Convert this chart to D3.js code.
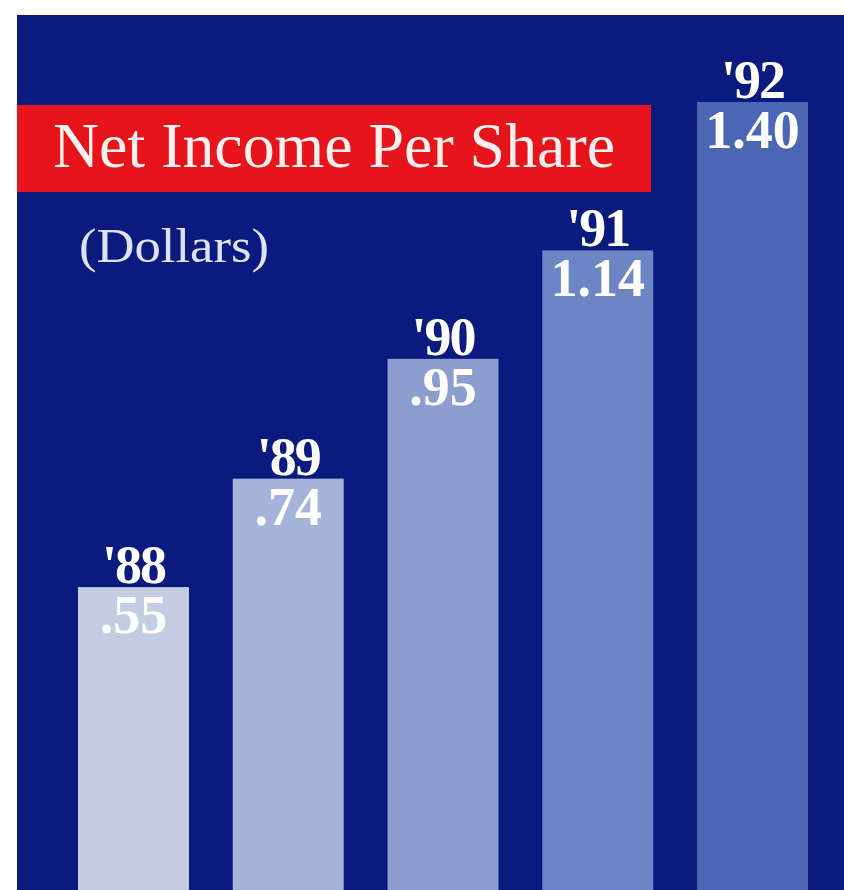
<!DOCTYPE html>
<html>
<head>
<meta charset="utf-8">
<script src="https://cdn.jsdelivr.net/npm/d3@7"></script>
<style>
  html, body { margin: 0; padding: 0; background: #ffffff; }
  svg { display: block; }
</style>
</head>
<body>
<script>
// Net income per share, fiscal 1988-1992
const years = ["'88", "'89", "'90", "'91", "'92"];
const values = [0.55, 0.74, 0.95, 1.14, 1.40];
const valueLabels = [".55", ".74", ".95", "1.14", "1.40"];
const barColors = ["#c4cce3", "#a6b3d9", "#8c9ecf", "#6d85c4", "#4b66b3"];

const W = 844, H = 890;
const svg = d3.select("body").append("svg")
  .attr("width", W).attr("height", H);

// White paper margin and navy panel
svg.append("rect").attr("width", W).attr("height", H).attr("fill", "#ffffff");
svg.append("rect").attr("x", 17).attr("y", 15).attr("width", W - 17).attr("height", H - 15)
  .attr("fill", "#0a1a7e");

const x = d3.scaleBand().domain(years).range([78, 808])
  .paddingInner(0.283).paddingOuter(0).align(0);
const y = d3.scaleLinear().domain([0, 1.40]).range([901, 102]);

// Title band
svg.append("rect").attr("x", 17).attr("y", 105).attr("width", 634).attr("height", 87)
  .attr("fill", "#e8141b");
svg.append("text")
  .attr("x", 53).attr("y", 167)
  .attr("font-family", "'Liberation Serif', serif")
  .attr("font-size", 63)
  .attr("fill", "#fdf0ef")
  .attr("textLength", 562).attr("lengthAdjust", "spacingAndGlyphs")
  .text("Net Income Per Share");

svg.append("text")
  .attr("x", 79).attr("y", 262)
  .attr("font-family", "'Liberation Serif', serif")
  .attr("font-size", 48)
  .attr("fill", "#dfe2f2")
  .attr("textLength", 190).attr("lengthAdjust", "spacingAndGlyphs")
  .text("(Dollars)");

const data = years.map((yr, i) => ({ yr, v: values[i], label: valueLabels[i], c: barColors[i] }));

const g = svg.append("g");
g.selectAll("rect.bar").data(data).join("rect")
  .attr("class", "bar")
  .attr("x", d => x(d.yr))
  .attr("y", d => y(d.v))
  .attr("width", x.bandwidth())
  .attr("height", d => y(0) - y(d.v))
  .attr("fill", d => d.c);

// Year label above each bar
g.selectAll("text.yr").data(data).join("text")
  .attr("class", "yr")
  .attr("x", d => x(d.yr) + x.bandwidth() / 2)
  .attr("y", d => y(d.v) - 4)
  .attr("text-anchor", "middle")
  .attr("font-family", "'Liberation Serif', serif")
  .attr("font-weight", "bold")
  .attr("font-size", 54)
  .attr("letter-spacing", -2)
  .attr("fill", "#ffffff")
  .text(d => d.yr);

// Value label inside the top of each bar
g.selectAll("text.val").data(data).join("text")
  .attr("class", "val")
  .attr("x", d => x(d.yr) + x.bandwidth() / 2)
  .attr("y", d => y(d.v) + 46)
  .attr("text-anchor", "middle")
  .attr("font-family", "'Liberation Serif', serif")
  .attr("font-weight", "bold")
  .attr("font-size", 54)
  .attr("fill", "#ffffff")
  .text(d => d.label);
</script>
</body>
</html>
